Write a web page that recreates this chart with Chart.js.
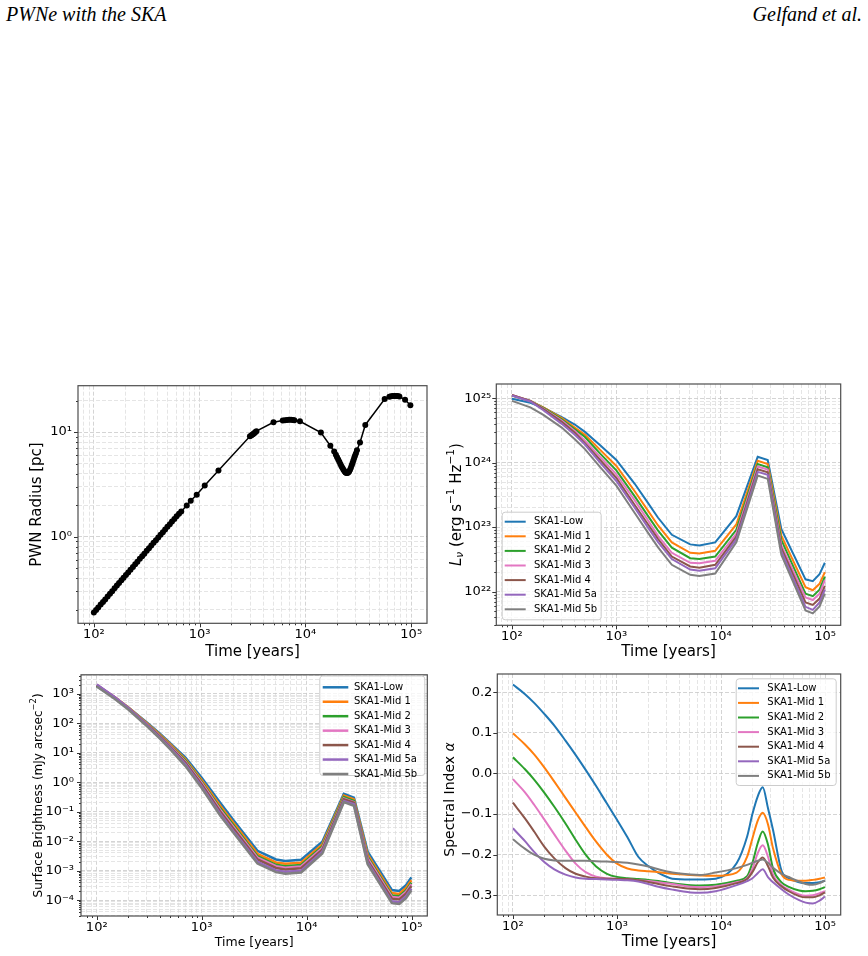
<!DOCTYPE html>
<html>
<head>
<meta charset="utf-8">
<title>PWNe with the SKA</title>
<script src="https://cdn.jsdelivr.net/npm/chart.js@4.4.1/dist/chart.umd.min.js"></script>
<style>
  body { margin: 0; background: #fff; }
  #page { position: relative; width: 868px; height: 956px; overflow: hidden; }
  .head { position: absolute; top: 3px; font: italic 20px 'Liberation Serif', serif; color: #000; }
  canvas { position: absolute; }
</style>
</head>
<body>
<div id="page">
  <div class="head" style="left:6px">PWNe with the SKA</div>
  <div class="head" style="right:6px">Gelfand et al.</div>
  <canvas id="radiusChart" width="434" height="290" style="left:0;top:370px"></canvas>
  <canvas id="lumChart" width="434" height="290" style="left:434px;top:370px"></canvas>
  <canvas id="sbChart" width="434" height="296" style="left:0;top:660px"></canvas>
  <canvas id="alphaChart" width="434" height="296" style="left:434px;top:660px"></canvas>
</div>
<script>
Chart.defaults.font.family = "'DejaVu Sans', sans-serif";
Chart.defaults.color = '#000';

const bands = ['SKA1-Low', 'SKA1-Mid 1', 'SKA1-Mid 2', 'SKA1-Mid 3', 'SKA1-Mid 4', 'SKA1-Mid 5a', 'SKA1-Mid 5b'];
const bandColors = ['#1f77b4', '#ff7f0e', '#2ca02c', '#e377c2', '#8c564b', '#9467bd', '#7f7f7f'];

// --- PWN radius (top left) ---
const radiusYears = [100, 105, 110, 116, 122, 128, 135, 142, 149, 157, 165, 173, 182, 191, 201, 211, 222, 234, 246, 258,
  272, 286, 300, 316, 332, 349, 367, 386, 406, 427, 449, 472, 496, 522, 548, 577, 606, 638, 670,
  755, 824, 938, 1117, 1506,
  2990, 3090, 3160, 3230, 3300, 3370, 3440,
  4990,
  6100, 6400, 6700, 7000, 7300, 7600, 7850,
  8870, 14000, 17200, 18700,
  19400, 19900, 20400, 20900, 21400, 21900, 22400, 22900, 23400, 23900, 24400, 24900, 25400, 25900, 26400, 26900,
  27400, 27900, 28400, 28900, 29400, 30000, 30700,
  32800, 36800, 56100,
  62200, 64500, 67000, 69500, 72000, 74500, 77300,
  87500, 98200];
const radiusPc = [0.187, 0.198, 0.209, 0.223, 0.236, 0.250, 0.266, 0.283, 0.299, 0.319, 0.339, 0.358, 0.381, 0.403, 0.428, 0.453, 0.481, 0.512, 0.543, 0.574,
  0.611, 0.648, 0.685, 0.729, 0.773, 0.820, 0.870, 0.923, 0.979, 1.04, 1.10, 1.17, 1.24, 1.31, 1.39, 1.47, 1.56, 1.65, 1.74,
  1.98, 2.20, 2.51, 3.08, 4.29,
  9.1, 9.3, 9.5, 9.65, 9.8, 10.0, 10.2,
  12.4,
  12.9, 13.0, 13.05, 13.1, 13.1, 13.05, 13.0,
  12.7, 9.9, 7.4, 6.5,
  6.07, 5.75, 5.45, 5.2, 4.95, 4.72, 4.52, 4.36, 4.22, 4.11, 4.05, 4.05, 4.1, 4.2, 4.35, 4.55,
  4.8, 5.05, 5.35, 5.65, 5.95, 6.25, 6.7,
  7.95, 11.7, 20.7,
  21.8, 22.0, 22.1, 22.15, 22.15, 22.1, 21.9,
  20.4, 18.1];

// --- luminosity and surface brightness share this time grid ---
const modelYears = [100, 150, 200, 300, 400, 500, 700, 1000, 1500, 2000, 2500, 3400, 5100, 6250, 8850, 14100, 22600, 28200, 38100, 64900, 76200, 88400, 99400];

const lumLow   = [9.8e24, 8.5e24, 7.1e24, 5.1e24, 3.9e24, 3.0e24, 1.86e24, 1.10e24, 4.7e23, 2.4e23, 1.41e23, 7.6e22, 5.4e22, 5.2e22, 5.8e22, 1.48e23, 1.23e24, 1.10e24, 9.3e22, 1.55e22, 1.45e22, 1.86e22, 2.8e22];
const lumMid1  = [1.10e25, 9.1e24, 7.2e24, 4.9e24, 3.5e24, 2.7e24, 1.58e24, 8.9e23, 3.6e23, 1.82e23, 1.07e23, 5.8e22, 4.0e22, 3.9e22, 4.3e22, 1.10e23, 1.07e24, 9.5e23, 7.4e22, 1.17e22, 1.05e22, 1.32e22, 2.0e22];
const lumMid2  = [1.10e25, 9.1e24, 7.1e24, 4.7e24, 3.3e24, 2.5e24, 1.38e24, 7.6e23, 3.0e23, 1.51e23, 8.9e22, 4.8e22, 3.3e22, 3.2e22, 3.5e22, 9.1e22, 9.5e23, 8.5e23, 6.3e22, 9.3e21, 8.5e21, 1.07e22, 1.70e22];
const lumMid3  = [1.12e25, 9.1e24, 6.9e24, 4.5e24, 3.1e24, 2.2e24, 1.23e24, 6.6e23, 2.6e23, 1.29e23, 7.4e22, 4.0e22, 2.8e22, 2.75e22, 3.0e22, 7.9e22, 8.7e23, 7.8e23, 5.2e22, 8.1e21, 7.4e21, 9.3e21, 1.51e22];
const lumMid4  = [1.12e25, 9.1e24, 6.8e24, 4.3e24, 2.9e24, 2.0e24, 1.10e24, 5.8e23, 2.2e23, 1.12e23, 6.6e22, 3.5e22, 2.45e22, 2.35e22, 2.6e22, 7.1e22, 7.9e23, 7.1e23, 4.7e22, 6.8e21, 6.2e21, 7.8e21, 1.23e22];
const lumMid5a = [1.10e25, 8.9e24, 6.5e24, 4.0e24, 2.7e24, 1.91e24, 1.0e24, 5.2e23, 2.0e23, 1.0e23, 5.9e22, 3.2e22, 2.2e22, 2.1e22, 2.3e22, 6.5e22, 7.2e23, 6.5e23, 4.2e22, 5.8e21, 5.2e21, 6.8e21, 1.07e22];
const lumMid5b = [9.1e24, 7.2e24, 5.5e24, 3.5e24, 2.3e24, 1.62e24, 8.5e23, 4.4e23, 1.66e23, 8.3e22, 4.9e22, 2.6e22, 1.82e22, 1.74e22, 1.91e22, 5.8e22, 6.3e23, 5.6e23, 3.7e22, 5.1e21, 4.6e21, 5.9e21, 9.3e21];

const sbLow   = [1780, 710, 340, 105, 44, 21, 6.8, 1.41, 0.20, 0.052, 0.019, 0.0047, 0.0024, 0.00214, 0.00234, 0.0095, 0.40, 0.30, 0.0044, 0.00022, 0.000204, 0.00032, 0.00059];
const sbMid1  = [1900, 740, 340, 100, 41, 19.5, 5.9, 1.17, 0.158, 0.042, 0.0151, 0.0037, 0.0019, 0.0017, 0.00186, 0.0078, 0.35, 0.26, 0.0035, 0.000174, 0.000162, 0.000257, 0.00047];
const sbMid2  = [1900, 720, 330, 95, 38, 17.8, 5.4, 1.02, 0.132, 0.035, 0.0126, 0.0031, 0.00158, 0.00141, 0.00155, 0.0066, 0.31, 0.23, 0.0029, 0.000145, 0.000135, 0.000214, 0.00039];
const sbMid3  = [2000, 740, 330, 93, 36, 17.0, 4.9, 0.93, 0.117, 0.031, 0.0112, 0.00275, 0.00141, 0.00126, 0.00138, 0.0059, 0.28, 0.21, 0.0026, 0.000129, 0.00012, 0.000191, 0.00035];
const sbMid4  = [1950, 720, 320, 89, 35, 15.8, 4.5, 0.83, 0.102, 0.027, 0.0098, 0.0024, 0.00123, 0.0011, 0.0012, 0.0051, 0.26, 0.20, 0.0022, 0.000112, 0.000105, 0.000166, 0.0003];
const sbMid5a = [2040, 740, 320, 85, 32, 14.5, 4.0, 0.72, 0.085, 0.022, 0.0081, 0.002, 0.00102, 0.00091, 0.001, 0.0044, 0.23, 0.178, 0.0019, 0.000091, 0.000085, 0.000135, 0.000245];
const sbMid5b = [1740, 650, 290, 79, 30, 13.2, 3.5, 0.63, 0.074, 0.0195, 0.0071, 0.00174, 0.00089, 0.00079, 0.00087, 0.0038, 0.21, 0.158, 0.00166, 0.000079, 0.000074, 0.000117, 0.000214];

// --- spectral index (bottom right) ---
const alphaYears = [100, 130, 160, 200, 250, 320, 400, 500, 630, 800, 1000, 1260, 1600, 2000, 2500, 3400, 5100, 6250, 8850,
  14100, 17800, 20000, 22600, 25100, 28200, 31600, 38100, 44700, 56200, 64900, 76200, 88400, 99400];
const alphaLow   = [0.219, 0.196, 0.174, 0.147, 0.118, 0.081, 0.046, 0.009, -0.031, -0.074, -0.114, -0.157, -0.205, -0.228, -0.245, -0.259, -0.261, -0.261, -0.259,
  -0.221, -0.155, -0.10, -0.055, -0.034, -0.085, -0.14, -0.240, -0.258, -0.268, -0.270, -0.270, -0.268, -0.264];
const alphaMid1  = [0.099, 0.072, 0.047, 0.015, -0.020, -0.060, -0.096, -0.132, -0.168, -0.200, -0.222, -0.234, -0.239, -0.241, -0.243, -0.247, -0.250, -0.251, -0.252,
  -0.244, -0.205, -0.160, -0.115, -0.097, -0.125, -0.185, -0.248, -0.262, -0.264, -0.264, -0.262, -0.259, -0.256];
const alphaMid2  = [0.040, 0.011, -0.015, -0.047, -0.082, -0.123, -0.163, -0.200, -0.229, -0.247, -0.255, -0.258, -0.260, -0.262, -0.265, -0.270, -0.275, -0.276, -0.274,
  -0.264, -0.253, -0.220, -0.170, -0.143, -0.175, -0.235, -0.268, -0.279, -0.288, -0.290, -0.289, -0.285, -0.280];
const alphaMid3  = [-0.014, -0.046, -0.077, -0.113, -0.150, -0.190, -0.222, -0.243, -0.254, -0.258, -0.259, -0.261, -0.263, -0.265, -0.268, -0.272, -0.279, -0.280, -0.278,
  -0.268, -0.258, -0.235, -0.195, -0.177, -0.205, -0.250, -0.275, -0.286, -0.298, -0.301, -0.300, -0.295, -0.290];
const alphaMid4  = [-0.072, -0.110, -0.143, -0.180, -0.209, -0.233, -0.247, -0.254, -0.258, -0.259, -0.260, -0.260, -0.263, -0.267, -0.272, -0.278, -0.284, -0.285, -0.282,
  -0.270, -0.260, -0.243, -0.218, -0.207, -0.228, -0.257, -0.278, -0.290, -0.302, -0.305, -0.305, -0.300, -0.293];
const alphaMid5a = [-0.135, -0.166, -0.193, -0.218, -0.236, -0.249, -0.256, -0.259, -0.260, -0.261, -0.262, -0.263, -0.266, -0.272, -0.279, -0.286, -0.293, -0.294, -0.290,
  -0.275, -0.265, -0.258, -0.245, -0.236, -0.255, -0.268, -0.285, -0.298, -0.312, -0.318, -0.320, -0.313, -0.303];
const alphaMid5b = [-0.162, -0.185, -0.200, -0.210, -0.214, -0.215, -0.215, -0.215, -0.216, -0.217, -0.218, -0.220, -0.224, -0.229, -0.236, -0.244, -0.249, -0.250, -0.244,
  -0.233, -0.225, -0.220, -0.215, -0.212, -0.220, -0.232, -0.247, -0.255, -0.266, -0.272, -0.274, -0.270, -0.263];
const alphaTicks = [-0.3, -0.2, -0.1, 0.0, 0.1, 0.2];

// axis limits
const yearRange = [70.8, 141000];
const radiusRange = [0.1476, 27.8];
const lumRange = [3.0e21, 1.66e25];
const sbRange = [2.9e-5, 4365];
const alphaRange = [-0.3485, 0.245];

const SUP = { '0': '⁰', '1': '¹', '2': '²', '3': '³', '4': '⁴', '5': '⁵', '6': '⁶', '7': '⁷', '8': '⁸', '9': '⁹', '-': '⁻' };
function powerLabel(v) {
  const e = Math.round(Math.log10(v));
  return '10' + String(e).split('').map(c => SUP[c]).join('');
}
function alphaLabel(v) {
  if (Math.abs(v) < 1e-9) return '0.0';
  return (v < 0 ? '\u2212' : '') + Math.abs(v).toFixed(1);
}

// ticks at m * 10^n inside [lo, hi], majors at the powers of ten
function logTicks(lo, hi) {
  const out = [];
  for (let e = Math.floor(Math.log10(lo)); e <= Math.ceil(Math.log10(hi)); e++) {
    for (let m = 1; m < 10; m++) {
      const v = m * Math.pow(10, e);
      if (v >= lo && v <= hi) out.push({ value: v, major: m === 1 });
    }
  }
  return out;
}

function gridColor(c) {
  return c.tick && c.tick.major ? '#c9c9c9' : '#dedede';
}

function logScale(range, size, horizontal, pad) {
  return {
    type: 'logarithmic', min: range[0], max: range[1], bounds: 'data',
    afterBuildTicks: s => { s.ticks = logTicks(range[0], range[1]); },
    afterFit: s => { if (horizontal) s.height = size; else s.width = size; },
    ticks: {
      autoSkip: false, maxRotation: 0, padding: pad, font: { size: 13 }, color: '#000',
      callback: (v, i, ts) => ts[i].major ? powerLabel(v) : ''
    },
    grid: { color: gridColor, lineWidth: 0.8, drawTicks: false },
    border: { display: false, dash: [4, 2] }
  };
}

// rich text: parts drawn one after the other, centred on the origin
function drawRich(ctx, parts, size) {
  let total = 0;
  const pieces = parts.map(p => {
    const s = (p.sup || p.sub) ? size * 0.7 : size;
    const font = (p.italic ? 'italic ' : '') + s + "px 'DejaVu Sans'";
    ctx.font = font;
    const w = ctx.measureText(p.t).width;
    total += w;
    return { t: p.t, font, w, dy: p.sup ? -size * 0.38 : (p.sub ? size * 0.22 : 0) };
  });
  let x = -total / 2;
  pieces.forEach(p => { ctx.font = p.font; ctx.fillText(p.t, x, p.dy); x += p.w; });
}

const panelDecor = {
  id: 'panelDecor',
  afterDraw(chart, args, opts) {
    const { ctx, chartArea: a } = chart;
    const xs = chart.scales.x, ys = chart.scales.y;
    ctx.save();
    // outward tick marks
    ctx.strokeStyle = '#333';
    ctx.lineWidth = 1;
    ctx.beginPath();
    xs.ticks.forEach(t => {
      const px = Math.round(xs.getPixelForValue(t.value)) + 0.5;
      ctx.moveTo(px, a.bottom);
      ctx.lineTo(px, a.bottom + (t.major ? 4 : 2));
    });
    ys.ticks.forEach(t => {
      const py = Math.round(ys.getPixelForValue(t.value)) + 0.5;
      ctx.moveTo(a.left, py);
      ctx.lineTo(a.left - (t.major ? 4 : 2), py);
    });
    ctx.stroke();
    // frame
    ctx.strokeStyle = '#4d4d4d';
    ctx.lineWidth = 1.2;
    ctx.strokeRect(a.left, a.top, a.right - a.left, a.bottom - a.top);
    // axis titles
    ctx.fillStyle = '#000';
    ctx.textBaseline = 'middle';
    ctx.textAlign = 'left';
    ctx.save();
    ctx.translate((a.left + a.right) / 2, opts.xTitleY);
    drawRich(ctx, opts.xTitle, opts.xTitleSize);
    ctx.restore();
    ctx.save();
    ctx.translate(opts.yTitleX, (a.top + a.bottom) / 2 + (opts.yTitleShift || 0));
    ctx.rotate(-Math.PI / 2);
    drawRich(ctx, opts.yTitle, opts.yTitleSize);
    ctx.restore();
    // legend
    const lg = opts.legend;
    if (lg) {
      ctx.beginPath();
      ctx.roundRect(lg.x + 0.5, lg.y + 0.5, lg.w, lg.h, 3);
      ctx.fillStyle = 'rgba(255,255,255,0.8)';
      ctx.fill();
      ctx.strokeStyle = '#cccccc';
      ctx.lineWidth = 1;
      ctx.stroke();
      ctx.font = "10px 'DejaVu Sans'";
      chart.data.datasets.forEach((d, i) => {
        const cy = lg.y + lg.first + i * lg.row;
        ctx.strokeStyle = d.borderColor;
        ctx.lineWidth = d.borderWidth;
        ctx.beginPath();
        ctx.moveTo(lg.x + lg.line[0], cy);
        ctx.lineTo(lg.x + lg.line[1], cy);
        ctx.stroke();
        ctx.fillStyle = '#000';
        ctx.fillText(d.label, lg.x + lg.text, cy);
      });
    }
    ctx.restore();
  }
};
Chart.register(panelDecor);

function bandSets(rows, xs, width, smooth) {
  return rows.map((ys, i) => ({
    label: bands[i],
    data: xs.map((x, j) => ({ x: x, y: ys[j] })),
    borderColor: bandColors[i],
    backgroundColor: bandColors[i],
    borderWidth: width,
    pointRadius: 0,
    tension: 0,
    cubicInterpolationMode: smooth ? 'monotone' : 'default',
    order: -i
  }));
}

function baseOptions(pad, scales, decor) {
  return {
    responsive: false,
    animation: false,
    layout: { padding: pad },
    scales: scales,
    plugins: { legend: { display: false }, tooltip: { enabled: false }, panelDecor: decor }
  };
}

const timeTitle = [{ t: 'Time [years]' }];

new Chart(document.getElementById('radiusChart'), {
  type: 'line',
  data: {
    datasets: [{
      label: 'PWN Radius',
      data: radiusYears.map((t, i) => ({ x: t, y: radiusPc[i] })),
      borderColor: '#000', backgroundColor: '#000', borderWidth: 1.5,
      pointRadius: 3, pointBorderWidth: 0, pointBackgroundColor: '#000', tension: 0
    }]
  },
  options: baseOptions({ top: 15.7, right: 7, left: 0, bottom: 0 }, {
    x: logScale(yearRange, 36.7, true, 4),
    y: logScale(radiusRange, 78, false, 6)
  }, {
    xTitle: timeTitle, xTitleSize: 15, xTitleY: 282,
    yTitle: [{ t: 'PWN Radius [pc]' }], yTitleSize: 15, yTitleX: 37.5
  })
});

new Chart(document.getElementById('lumChart'), {
  type: 'line',
  data: { datasets: bandSets([lumLow, lumMid1, lumMid2, lumMid3, lumMid4, lumMid5a, lumMid5b], modelYears, 2, false) },
  options: baseOptions({ top: 14, right: 27.3, left: 0, bottom: 0 }, {
    x: logScale(yearRange, 34.7, true, 4),
    y: logScale(lumRange, 62.3, false, 5)
  }, {
    xTitle: timeTitle, xTitleSize: 15, xTitleY: 282.5,
    yTitle: [{ t: 'L', italic: true }, { t: '\u03bd', sub: true, italic: true }, { t: ' (erg s' }, { t: '\u22121', sup: true },
      { t: ' Hz' }, { t: '\u22121', sup: true }, { t: ')' }],
    yTitleSize: 15, yTitleX: 23,
    legend: { x: 67.7, y: 141.7, w: 99, h: 107.6, first: 10, row: 14.6, line: [3, 24], text: 32.3 }
  })
});

new Chart(document.getElementById('sbChart'), {
  type: 'line',
  data: { datasets: bandSets([sbLow, sbMid1, sbMid2, sbMid3, sbMid4, sbMid5a, sbMid5b], modelYears, 2.5, false) },
  options: baseOptions({ top: 14.3, right: 6.7, left: 0, bottom: 0 }, {
    x: logScale(yearRange, 40, true, 4),
    y: logScale(sbRange, 81, false, 7)
  }, {
    xTitle: timeTitle, xTitleSize: 12.5, xTitleY: 282.5,
    yTitle: [{ t: 'Surface Brightness (mJy arcsec' }, { t: '\u22122', sup: true }, { t: ')' }],
    yTitleSize: 12, yTitleX: 38.5,
    legend: { x: 319.3, y: 15.5, w: 105, h: 99.5, first: 11.8, row: 14.45, line: [3.4, 29], text: 34.7 }
  })
});

new Chart(document.getElementById('alphaChart'), {
  type: 'line',
  data: { datasets: bandSets([alphaLow, alphaMid1, alphaMid2, alphaMid3, alphaMid4, alphaMid5a, alphaMid5b], alphaYears, 2, true) },
  options: baseOptions({ top: 14, right: 27.3, left: 0, bottom: 0 }, {
    x: logScale(yearRange, 41, true, 4),
    y: {
      type: 'linear', min: alphaRange[0], max: alphaRange[1], bounds: 'data',
      afterBuildTicks: s => { s.ticks = alphaTicks.map(v => ({ value: v, major: true })); },
      afterFit: s => { s.width = 63.3; },
      ticks: { autoSkip: false, padding: 5, font: { size: 13 }, color: '#000', callback: v => alphaLabel(v) },
      grid: { color: '#c9c9c9', lineWidth: 0.8, drawTicks: false },
      border: { display: false, dash: [4, 2] }
    }
  }, {
    xTitle: timeTitle, xTitleSize: 15, xTitleY: 282.5,
    yTitle: [{ t: 'Spectral Index ' }, { t: '\u03b1', italic: true }],
    yTitleSize: 14, yTitleX: 16, yTitleShift: 5,
    legend: { x: 301.7, y: 18.3, w: 100, h: 106.7, first: 10, row: 14.6, line: [2.3, 23.3], text: 31.6 }
  })
});
</script>
</body>
</html>
